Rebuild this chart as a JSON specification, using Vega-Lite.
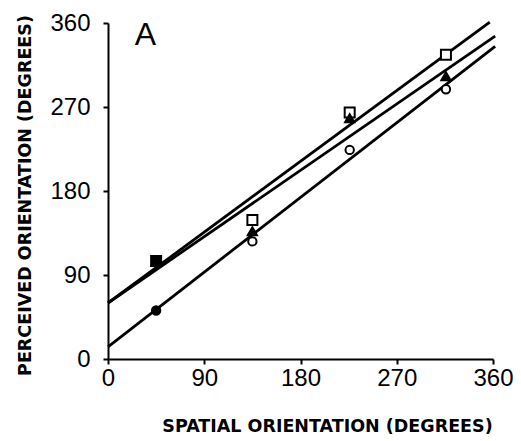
{
  "$schema": "https://vega.github.io/schema/vega-lite/v6.json",
  "width": 385,
  "height": 336,
  "autosize": "none",
  "padding": {"left": 108, "top": 23, "right": 28, "bottom": 82},
  "background": "white",
  "config": {
    "view": {"stroke": null},
    "axis": {
      "grid": false,
      "labelFlush": false,
      "domainColor": "black",
      "domainWidth": 2,
      "tickColor": "black",
      "tickWidth": 2,
      "tickSize": 5,
      "labelFont": "Liberation Sans",
      "labelFontSize": 24,
      "labelColor": "black",
      "titleFont": "DejaVu Sans",
      "titleFontWeight": "bold",
      "titleFontSize": 17.5,
      "titleColor": "black"
    }
  },
  "datasets": {
    "lines": [
      {"line": "a", "x": 0, "y": 60},
      {"line": "a", "x": 357, "y": 361},
      {"line": "b", "x": 0, "y": 60},
      {"line": "b", "x": 362, "y": 346},
      {"line": "c", "x": 0, "y": 13},
      {"line": "c", "x": 362, "y": 335}
    ],
    "points": [
      {"series": "square", "x": 45, "y": 105},
      {"series": "triangle", "x": 45, "y": 104},
      {"series": "circle", "x": 45, "y": 52},
      {"series": "square", "x": 135, "y": 149},
      {"series": "triangle", "x": 135, "y": 137},
      {"series": "circle", "x": 135, "y": 126},
      {"series": "square", "x": 226, "y": 264},
      {"series": "triangle", "x": 226, "y": 258},
      {"series": "circle", "x": 226, "y": 224},
      {"series": "square", "x": 316, "y": 326},
      {"series": "triangle", "x": 316, "y": 303},
      {"series": "circle", "x": 316, "y": 289}
    ],
    "label": [{"text": "A", "x": 35, "y": 347}]
  },
  "layer": [
    {
      "data": {"name": "lines"},
      "mark": {"type": "line", "color": "black", "strokeWidth": 2.8, "clip": false},
      "encoding": {
        "x": {
          "field": "x", "type": "quantitative",
          "scale": {"domain": [0, 360], "nice": false},
          "axis": {"values": [0, 90, 180, 270, 360], "title": "SPATIAL ORIENTATION (DEGREES)", "labelPadding": 2, "titleX": 219, "titleY": 72, "titleBaseline": "alphabetic"}
        },
        "y": {
          "field": "y", "type": "quantitative",
          "scale": {"domain": [0, 360], "nice": false},
          "axis": {"values": [0, 90, 180, 270, 360], "title": "PERCEIVED ORIENTATION (DEGREES)", "labelPadding": 13, "titleX": -83, "titleY": 172, "titleBaseline": "middle"}
        },
        "detail": {"field": "line"}
      }
    },
    {
      "data": {"name": "points"},
      "mark": {"type": "point", "strokeWidth": 2, "opacity": 1, "clip": false},
      "encoding": {
        "x": {"field": "x", "type": "quantitative"},
        "y": {"field": "y", "type": "quantitative"},
        "shape": {
          "field": "series", "type": "nominal",
          "scale": {"domain": ["square", "triangle", "circle"], "range": ["square", "triangle-up", "circle"]},
          "legend": null
        },
        "size": {
          "field": "series", "type": "nominal",
          "scale": {"domain": ["square", "triangle", "circle"], "range": [100, 70, 60]},
          "legend": null
        },
        "color": {"value": "black"},
        "fill": {
          "condition": [
            {"test": "datum.x == 45", "value": "black"},
            {"test": "datum.series == 'triangle'", "value": "black"}
          ],
          "value": "white"
        }
      }
    },
    {
      "data": {"name": "label"},
      "mark": {"type": "text", "font": "Liberation Sans", "fontSize": 32, "color": "black", "align": "center", "baseline": "middle"},
      "encoding": {
        "x": {"field": "x", "type": "quantitative"},
        "y": {"field": "y", "type": "quantitative"},
        "text": {"field": "text"}
      }
    }
  ]
}
